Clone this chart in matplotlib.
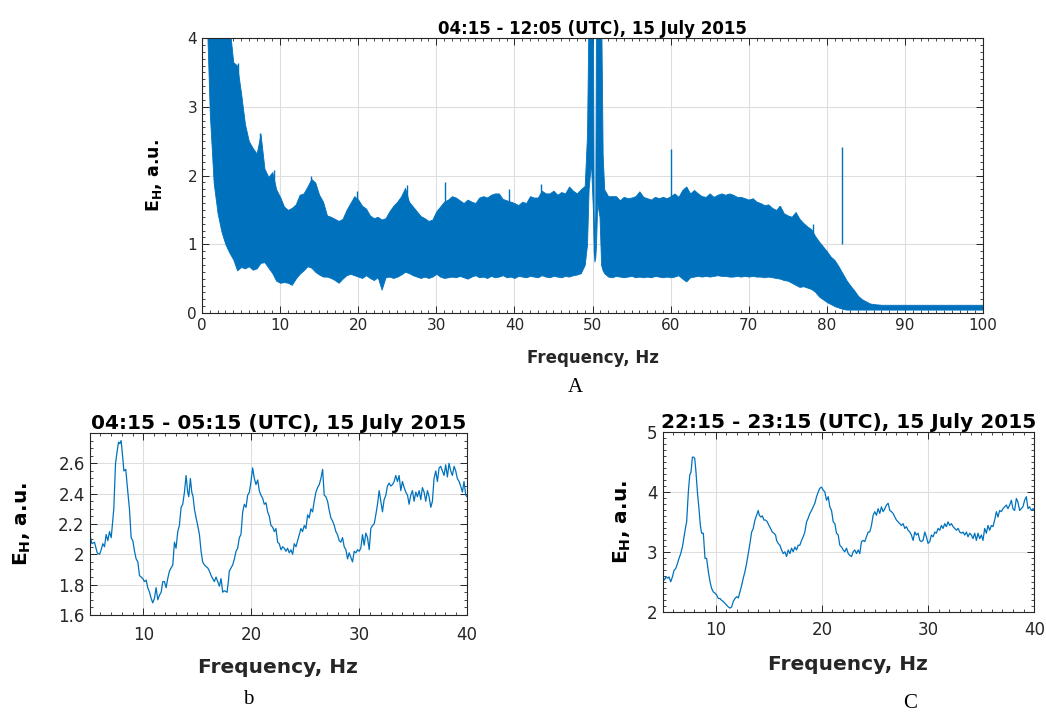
import numpy as np
import matplotlib
matplotlib.use("Agg")
import matplotlib.pyplot as plt
from matplotlib.ticker import MultipleLocator

plt.rcParams['font.family'] = ['DejaVu Sans']
plt.rcParams['mathtext.fontset'] = 'dejavusans'

BLUE = '#0072BD'
DARK = '#262626'

# ---------------- Panel A: broadband spectrum envelope ----------------
freq_a = [0.7, 1.0, 1.5, 2.0, 2.5, 3.0, 3.5, 4.0, 4.5, 5.0, 5.5, 6.0, 6.5, 7.0, 7.5,
          8.0, 8.5, 9.0, 9.5, 10.0, 10.5, 11.0, 11.5, 12.0, 12.5, 13.0, 13.5, 14.0,
          14.5, 15.0, 15.5, 16.0, 16.5, 17.0, 17.5, 18.0, 18.5, 19.0, 19.5, 20.0,
          20.5, 21.0, 21.5, 22.0, 22.5, 23.0, 23.5, 24.0, 24.5, 25.0, 25.5, 26.0,
          26.5, 27.0, 27.5, 28.0, 28.5, 29.0, 29.5, 30.0, 30.5, 31.0, 31.5, 32.0,
          32.5, 33.0, 33.5, 34.0, 34.5, 35.0, 35.5, 36.0, 36.5, 37.0, 37.5, 38.0,
          38.5, 39.0, 39.5, 40.0, 40.5, 41.0, 41.5, 42.0, 42.5, 43.0, 43.5, 44.0,
          44.5, 45.0, 45.5, 46.0, 46.5, 47.0, 47.5, 48.0, 48.5, 49.0, 49.3, 49.5,
          49.8, 50.05, 50.15, 50.25, 50.35, 50.45, 50.6, 50.9, 51.1, 51.3, 51.5,
          52.0, 52.5, 53.0, 53.5, 54.0, 54.5, 55.0, 55.5, 56.0, 56.5, 57.0, 57.5,
          58.0, 58.5, 59.0, 59.5, 60.0, 60.5, 61.0, 61.5, 62.0, 62.5, 63.0, 63.5,
          64.0, 64.5, 65.0, 65.5, 66.0, 66.5, 67.0, 67.5, 68.0, 68.5, 69.0, 69.5,
          70.0, 70.5, 71.0, 71.5, 72.0, 72.5, 73.0, 73.5, 74.0, 74.5, 75.0, 75.5,
          76.0, 76.5, 77.0, 77.5, 78.0, 78.5, 79.0, 79.5, 80.0, 80.5, 81.0, 81.5,
          82.0, 82.5, 83.0, 83.5, 84.0, 84.5, 85.0, 85.5, 86.0, 87.0, 88.0, 90.0,
          92.0, 94.0, 96.0, 98.0, 100.0]
upper_a = [4.5, 4.5, 4.5, 4.5, 4.5, 4.5, 4.2, 3.65, 3.6, 3.2, 2.75, 2.5, 2.4, 2.32, 2.6,
           2.1, 1.98, 2.05, 1.8, 1.69, 1.55, 1.5, 1.53, 1.58, 1.72, 1.74, 1.84, 1.95,
           1.9, 1.72, 1.62, 1.42, 1.4, 1.37, 1.34, 1.37, 1.5, 1.6, 1.7, 1.65,
           1.56, 1.52, 1.42, 1.38, 1.4, 1.36, 1.38, 1.48, 1.56, 1.62, 1.7, 1.82,
           1.62, 1.55, 1.48, 1.41, 1.38, 1.34, 1.36, 1.48, 1.55, 1.62, 1.65, 1.7,
           1.68, 1.64, 1.6, 1.65, 1.62, 1.6, 1.68, 1.7, 1.68, 1.72, 1.74, 1.74,
           1.66, 1.64, 1.62, 1.6, 1.57, 1.62, 1.6, 1.7, 1.68, 1.68, 1.78, 1.74,
           1.74, 1.78, 1.72, 1.76, 1.74, 1.84, 1.78, 1.74, 1.8, 1.85, 2.6, 4.5,
           4.5, 4.5, 1.5, 0.85, 1.5, 4.5, 4.5, 4.5, 4.5, 2.3, 1.8,
           1.7, 1.7, 1.7, 1.64, 1.69, 1.67, 1.68, 1.7, 1.77, 1.69, 1.67, 1.65,
           1.69, 1.67, 1.69, 1.67, 1.7, 1.74, 1.69, 1.79, 1.84, 1.74, 1.79, 1.74,
           1.7, 1.69, 1.74, 1.69, 1.72, 1.74, 1.72, 1.74, 1.72, 1.69, 1.69, 1.67,
           1.65, 1.67, 1.62, 1.6, 1.57, 1.58, 1.53, 1.5, 1.56, 1.45, 1.42, 1.4,
           1.47, 1.37, 1.31, 1.26, 1.22, 1.12, 1.04, 0.97, 0.9, 0.82, 0.77, 0.68,
           0.58, 0.48, 0.4, 0.33, 0.25, 0.2, 0.17, 0.14, 0.13, 0.12, 0.12, 0.12,
           0.12, 0.12, 0.12, 0.12, 0.12]
lower_a = [4.0, 2.9, 1.89, 1.45, 1.18, 1.0, 0.88, 0.78, 0.62, 0.67, 0.65, 0.68, 0.63, 0.65, 0.73,
           0.74, 0.66, 0.58, 0.47, 0.44, 0.45, 0.44, 0.41, 0.5, 0.57, 0.62, 0.68, 0.66,
           0.6, 0.56, 0.53, 0.53, 0.51, 0.48, 0.44, 0.5, 0.55, 0.57, 0.55, 0.53,
           0.51, 0.55, 0.51, 0.48, 0.52, 0.34, 0.52, 0.53, 0.51, 0.53, 0.56, 0.6,
           0.58, 0.55, 0.53, 0.51, 0.53, 0.51, 0.53, 0.57, 0.53, 0.51, 0.52, 0.53,
           0.52, 0.54, 0.52, 0.5, 0.53, 0.55, 0.52, 0.53, 0.51, 0.54, 0.52, 0.53,
           0.55, 0.52, 0.53, 0.51, 0.54, 0.53, 0.52, 0.54, 0.53, 0.52, 0.55, 0.53,
           0.52, 0.54, 0.53, 0.52, 0.54, 0.53, 0.55, 0.56, 0.58, 0.7, 1.0, 1.8,
           2.2, 1.5, 0.9, 0.75, 0.8, 1.0, 1.6, 1.4, 0.7, 0.62, 0.58,
           0.53, 0.52, 0.54, 0.53, 0.52, 0.53, 0.54, 0.52, 0.53, 0.52, 0.53, 0.52,
           0.54, 0.53, 0.52, 0.53, 0.52, 0.53, 0.55, 0.5, 0.46, 0.52, 0.53, 0.54,
           0.53, 0.54, 0.53, 0.54, 0.55, 0.54, 0.54, 0.53, 0.53, 0.54, 0.53, 0.54,
           0.53, 0.54, 0.53, 0.53, 0.52, 0.53, 0.52, 0.51, 0.5, 0.48, 0.47, 0.44,
           0.41, 0.38, 0.39, 0.37, 0.35, 0.31, 0.24, 0.2, 0.16, 0.13, 0.1, 0.08,
           0.06, 0.05, 0.05, 0.05, 0.05, 0.05, 0.05, 0.05, 0.05, 0.05, 0.05, 0.05,
           0.05, 0.05, 0.05, 0.05, 0.05]
# isolated narrow spectral lines / noise spikes
spike_freq = [4.6, 7.4, 9.2, 14.0, 19.8, 26.2, 31.1, 39.3, 43.4, 60.0, 62.0, 73.9, 78.2, 82.0]
spike_top = [3.63, 2.62, 2.08, 2.0, 1.78, 1.86, 1.91, 1.8, 1.87, 2.39, 1.84, 1.56, 1.3, 2.42]

# ---------------- Panel b: 04:15 - 05:15 ----------------
freq_b = [5.00, 5.00, 5.22, 5.46, 5.71, 5.93, 6.08, 6.23, 6.39, 6.54, 6.70, 6.85, 7.01,
          7.25, 7.41, 7.56, 7.69, 7.81, 7.93, 8.09, 8.18, 8.36, 8.55, 8.70, 8.86, 9.01,
          9.17, 9.32, 9.48, 9.63, 9.78, 9.94, 10.09, 10.25, 10.40, 10.56, 10.71, 10.86,
          11.02, 11.17, 11.33, 11.48, 11.64, 11.79, 11.94, 12.10, 12.25, 12.41, 12.56,
          12.72, 12.87, 13.02, 13.18, 13.33, 13.49, 13.64, 13.80, 13.95, 14.10, 14.20,
          14.35, 14.48, 14.60, 14.72, 14.88, 15.03, 15.19, 15.34, 15.49, 15.65, 15.80,
          15.96, 16.11, 16.27, 16.42, 16.57, 16.73, 16.88, 17.04, 17.19, 17.35, 17.50,
          17.75, 17.87, 17.96, 18.12, 18.27, 18.43, 18.58, 18.73, 18.89, 19.04, 19.20,
          19.35, 19.51, 19.66, 19.82, 19.97, 20.12, 20.28, 20.43, 20.59, 20.74, 20.89,
          21.05, 21.20, 21.36, 21.51, 21.67, 21.82, 21.97, 22.13, 22.28, 22.44, 22.59,
          22.75, 22.90, 23.06, 23.21, 23.36, 23.52, 23.67, 23.83, 23.98, 24.14, 24.29,
          24.44, 24.60, 24.75, 24.91, 25.06, 25.22, 25.37, 25.52, 25.68, 25.83, 25.99,
          26.14, 26.30, 26.45, 26.61, 26.76, 26.91, 27.07, 27.22, 27.38, 27.53, 27.69,
          27.84, 27.99, 28.15, 28.30, 28.46, 28.61, 28.77, 28.92, 29.07, 29.23, 29.38,
          29.54, 29.69, 29.85, 30.00, 30.15, 30.31, 30.46, 30.62, 30.77, 30.93, 31.08,
          31.23, 31.39, 31.54, 31.70, 31.85, 32.01, 32.16, 32.31, 32.47, 32.62, 32.78,
          32.93, 33.09, 33.24, 33.39, 33.55, 33.70, 33.86, 34.01, 34.17, 34.32, 34.48,
          34.63, 34.78, 34.94, 35.09, 35.25, 35.40, 35.56, 35.71, 35.86, 36.02, 36.17,
          36.33, 36.48, 36.64, 36.79, 36.94, 37.10, 37.25, 37.41, 37.56, 37.72, 37.87,
          38.02, 38.18, 38.33, 38.49, 38.64, 38.80, 38.95, 39.10, 39.26, 39.41, 39.57,
          39.72, 39.88, 40.00]
eh_b = [1.60, 2.14, 2.07, 2.08, 2.01, 2.00, 2.03, 2.07, 2.05, 2.13, 2.09, 2.15, 2.11,
        2.30, 2.60, 2.68, 2.74, 2.73, 2.75, 2.63, 2.55, 2.56, 2.41, 2.30, 2.11, 2.09,
        2.02, 1.97, 1.95, 1.86, 1.85, 1.84, 1.82, 1.83, 1.78, 1.75, 1.71, 1.68,
        1.71, 1.78, 1.70, 1.73, 1.75, 1.82, 1.82, 1.78, 1.84, 1.89, 1.91,
        1.93, 2.08, 2.04, 2.15, 2.19, 2.31, 2.33, 2.41, 2.52, 2.41, 2.38,
        2.50, 2.41, 2.38, 2.30, 2.24, 2.19, 2.13, 2.02, 1.95, 1.93, 1.92,
        1.91, 1.89, 1.86, 1.84, 1.82, 1.85, 1.82, 1.79, 1.84, 1.75, 1.76,
        1.75, 1.82, 1.89, 1.91, 1.93, 1.97, 2.02, 2.04, 2.11, 2.13, 2.28,
        2.33, 2.31, 2.39, 2.41, 2.48, 2.57, 2.50, 2.46, 2.49, 2.42, 2.39,
        2.37, 2.33, 2.34, 2.28, 2.25, 2.19, 2.18, 2.15, 2.17, 2.08, 2.07,
        2.03, 2.05, 2.04, 2.02, 2.04, 2.01, 2.03, 2.00, 2.07, 2.05, 2.09,
        2.13, 2.17, 2.15, 2.19, 2.17, 2.26, 2.24, 2.30, 2.28, 2.35, 2.41,
        2.44, 2.46, 2.50, 2.56, 2.39, 2.38, 2.35, 2.29, 2.24, 2.22, 2.19,
        2.15, 2.13, 2.09, 2.08, 2.11, 2.05, 2.03, 1.97, 2.01, 1.98, 1.95,
        2.02, 2.01, 2.03, 2.02, 2.04, 2.13, 2.06, 2.14, 2.11, 2.03, 2.17,
        2.19, 2.20, 2.26, 2.33, 2.42, 2.35, 2.28, 2.36, 2.39, 2.45, 2.47,
        2.45, 2.46, 2.48, 2.52, 2.48, 2.52, 2.42, 2.48, 2.44, 2.41, 2.39,
        2.33, 2.39, 2.42, 2.35, 2.41, 2.38, 2.42, 2.36, 2.44, 2.41, 2.35,
        2.42, 2.38, 2.31, 2.35, 2.50, 2.55, 2.48, 2.57, 2.58, 2.55, 2.52,
        2.59, 2.51, 2.60, 2.55, 2.52, 2.58, 2.55, 2.50, 2.48, 2.45, 2.41,
        2.48, 2.39, 2.38]

# ---------------- Panel C: 22:15 - 23:15 ----------------
freq_c = [5.00, 5.00, 5.18, 5.33, 5.49, 5.61, 5.77, 5.93, 6.08, 6.24, 6.40, 6.55, 6.71,
          6.87, 7.02, 7.18, 7.27, 7.43, 7.56, 7.68, 7.81, 7.93, 8.03, 8.15, 8.28, 8.40,
          8.56, 8.68, 8.84, 9.00, 9.15, 9.31, 9.47, 9.62, 9.78, 9.94, 10.09, 10.25,
          10.41, 10.56, 10.72, 10.88, 11.04, 11.19, 11.35, 11.51, 11.66, 11.82, 11.98,
          12.13, 12.29, 12.45, 12.60, 12.76, 12.92, 13.07, 13.23, 13.39, 13.54, 13.70,
          13.86, 14.01, 14.11, 14.26, 14.39, 14.55, 14.70, 14.86, 15.02, 15.17, 15.33,
          15.49, 15.64, 15.74, 15.89, 16.05, 16.21, 16.36, 16.52, 16.68, 16.83, 16.99,
          17.15, 17.30, 17.46, 17.62, 17.77, 17.93, 18.09, 18.24, 18.40, 18.56, 18.71,
          18.87, 19.03, 19.19, 19.34, 19.50, 19.66, 19.81, 19.97, 20.13, 20.28, 20.44,
          20.60, 20.75, 20.91, 21.07, 21.22, 21.38, 21.54, 21.69, 21.85, 22.01, 22.16,
          22.32, 22.48, 22.63, 22.79, 22.95, 23.10, 23.26, 23.42, 23.57, 23.73, 23.89,
          24.04, 24.20, 24.36, 24.51, 24.67, 24.83, 24.98, 25.14, 25.30, 25.45, 25.61,
          25.77, 25.93, 26.08, 26.24, 26.40, 26.55, 26.71, 26.87, 27.02, 27.18, 27.34,
          27.49, 27.65, 27.81, 27.96, 28.12, 28.28, 28.43, 28.59, 28.75, 28.90, 29.06,
          29.22, 29.37, 29.53, 29.69, 29.84, 30.00, 30.16, 30.31, 30.47, 30.63, 30.78,
          30.94, 31.10, 31.25, 31.41, 31.57, 31.72, 31.88, 32.04, 32.20, 32.35, 32.51,
          32.67, 32.82, 32.98, 33.14, 33.29, 33.45, 33.61, 33.76, 33.92, 34.08, 34.23,
          34.39, 34.55, 34.70, 34.86, 35.02, 35.17, 35.33, 35.49, 35.64, 35.80, 35.96,
          36.11, 36.27, 36.43, 36.58, 36.74, 36.90, 37.05, 37.21, 37.37, 37.52, 37.68,
          37.84, 37.99, 38.15, 38.31, 38.46, 38.62, 38.78, 38.93, 39.09, 39.25, 39.41,
          39.56, 39.72, 39.88, 40.00]
eh_c = [2.05, 2.58, 2.53, 2.58, 2.56, 2.58, 2.50, 2.58, 2.69, 2.72, 2.80, 2.89, 2.97,
        3.08, 3.25, 3.42, 3.50, 4.00, 4.28, 4.33, 4.58, 4.58, 4.56, 4.33, 4.00, 3.78,
        3.44, 3.31, 3.31, 2.89, 2.89, 2.67, 2.50, 2.39, 2.33, 2.31, 2.28, 2.22,
        2.22, 2.19, 2.17, 2.14, 2.11, 2.08, 2.06, 2.08, 2.17, 2.22, 2.25,
        2.23, 2.33, 2.44, 2.56, 2.67, 2.81, 2.97, 3.14, 3.33, 3.39, 3.53,
        3.61, 3.69, 3.61, 3.58, 3.60, 3.53, 3.53, 3.50, 3.44, 3.39, 3.33,
        3.31, 3.28, 3.19, 3.14, 3.11, 3.03, 2.97, 3.00, 2.92, 3.03, 2.97,
        3.06, 3.00, 3.08, 3.03, 3.11, 3.11, 3.19, 3.25, 3.33, 3.50, 3.56,
        3.64, 3.69, 3.75, 3.81, 3.92, 4.00, 4.06, 4.08, 4.03, 4.00, 3.86,
        3.92, 3.75, 3.69, 3.50, 3.47, 3.31, 3.28, 3.11, 3.08, 3.03, 3.00,
        3.06, 2.97, 2.94, 2.92, 3.00, 3.03, 2.97, 3.03, 2.97, 3.17, 3.19,
        3.17, 3.25, 3.33, 3.33, 3.44, 3.61, 3.67, 3.61, 3.72, 3.64, 3.75,
        3.67, 3.72, 3.78, 3.81, 3.69, 3.67, 3.64, 3.58, 3.53, 3.50, 3.47,
        3.44, 3.47, 3.39, 3.42, 3.36, 3.33, 3.28, 3.19, 3.33, 3.28, 3.31,
        3.19, 3.17, 3.19, 3.33, 3.25, 3.14, 3.17, 3.28, 3.25, 3.33, 3.31,
        3.39, 3.36, 3.44, 3.39, 3.47, 3.42, 3.50, 3.44, 3.47, 3.42, 3.39,
        3.36, 3.39, 3.33, 3.31, 3.33, 3.28, 3.33, 3.25, 3.31, 3.28, 3.22,
        3.31, 3.19, 3.31, 3.22, 3.28, 3.19, 3.39, 3.31, 3.44, 3.36, 3.44,
        3.42, 3.53, 3.67, 3.58, 3.69, 3.67, 3.72, 3.75, 3.78, 3.72, 3.78,
        3.86, 3.72, 3.69, 3.89, 3.83, 3.69, 3.72, 3.75, 3.86, 3.92, 3.72,
        3.75, 3.69, 3.72, 3.70]

titles = ['04:15 - 12:05 (UTC), 15 July 2015',
          '04:15 - 05:15 (UTC), 15 July 2015',
          '22:15 - 23:15 (UTC), 15 July 2015']
panel_letters = ['A', 'b', 'C']
xlabel = 'Frequency, Hz'
ylabel = r'E$_\mathbf{H}$, a.u.'


def matlab_style(ax, xmaj, xmin, ymaj, ymin, tsize, xpad=3.5):
    for s in ax.spines.values():
        s.set_color(DARK)
        s.set_linewidth(0.8)
    ax.xaxis.set_major_locator(MultipleLocator(xmaj))
    ax.xaxis.set_minor_locator(MultipleLocator(xmin))
    ax.yaxis.set_major_locator(MultipleLocator(ymaj))
    ax.yaxis.set_minor_locator(MultipleLocator(ymin))
    ax.tick_params(which='both', direction='in', top=True, right=True,
                   colors=DARK, labelcolor=DARK, labelsize=tsize)
    ax.tick_params(which='major', length=5, width=0.7)
    ax.tick_params(which='minor', length=2.5, width=0.6)
    ax.tick_params(axis='x', which='major', pad=xpad)
    ax.grid(True, which='major', color='#dedede', linewidth=0.8)
    ax.set_axisbelow(True)


fig = plt.figure(figsize=(10.46, 7.15), dpi=100)

# Panel A
axA = fig.add_axes([0.1931, 0.5622, 0.7467, 0.3846])
axA.fill_between(freq_a, lower_a, upper_a, color=BLUE, linewidth=0.6, edgecolor=BLUE)
axA.vlines(spike_freq, [1.0] * len(spike_freq), spike_top, color=BLUE, linewidth=1.0)
axA.set_xlim(0, 100)
axA.set_ylim(0, 4)
matlab_style(axA, 10, 1, 1, 0.1, 11)
axA.set_title(titles[0], fontsize=12, fontweight='bold', color='black', pad=3)
axA.set_xlabel(xlabel, fontsize=12, fontweight='bold', color=DARK)
axA.set_ylabel(ylabel, fontsize=12.5, fontweight='bold', color='black')
axA.xaxis.set_label_coords(0.5, -0.13)
axA.yaxis.set_label_coords(-0.048, 0.5)
fig.text(575 / 1046, 1 - 388 / 715, panel_letters[0], family='Liberation Serif',
         fontsize=15, ha='center', va='center')

# Panel b
axB = fig.add_axes([0.0856, 0.1399, 0.3609, 0.2545])
axB.plot(freq_b, eh_b, color=BLUE, linewidth=0.9)
axB.set_xlim(5, 40)
axB.set_ylim(1.6, 2.8)
matlab_style(axB, 10, 1, 0.2, 0.05, 12, xpad=8)
axB.set_yticks([1.6, 1.8, 2.0, 2.2, 2.4, 2.6])
axB.set_yticklabels(['1.6', '1.8', '2', '2.2', '2.4', '2.6'])
axB.set_title(titles[1], fontsize=14.5, fontweight='bold', color='black', pad=3)
axB.set_xlabel(xlabel, fontsize=14.5, fontweight='bold', color=DARK)
axB.set_ylabel(ylabel, fontsize=14.5, fontweight='bold', color='black')
axB.xaxis.set_label_coords(0.5, -0.235)
axB.yaxis.set_label_coords(-0.15, 0.5)
fig.text(248 / 1046, 1 - 699 / 715, panel_letters[1], family='Liberation Serif',
         fontsize=15, ha='center', va='center')

# Panel C
axC = fig.add_axes([0.6334, 0.1445, 0.3554, 0.2513])
axC.plot(freq_c, eh_c, color=BLUE, linewidth=0.9)
axC.set_xlim(5, 40)
axC.set_ylim(2, 5)
matlab_style(axC, 10, 1, 1, 0.1, 12, xpad=7)
axC.set_title(titles[2], fontsize=14.5, fontweight='bold', color='black', pad=3)
axC.set_xlabel(xlabel, fontsize=14.5, fontweight='bold', color=DARK)
axC.set_ylabel(ylabel, fontsize=14.5, fontweight='bold', color='black')
axC.xaxis.set_label_coords(0.5, -0.24)
axC.yaxis.set_label_coords(-0.08, 0.5)
fig.text(910 / 1046, 1 - 703 / 715, panel_letters[2], family='Liberation Serif',
         fontsize=15, ha='center', va='center')

fig.savefig('out.png', dpi=100, facecolor='white')
